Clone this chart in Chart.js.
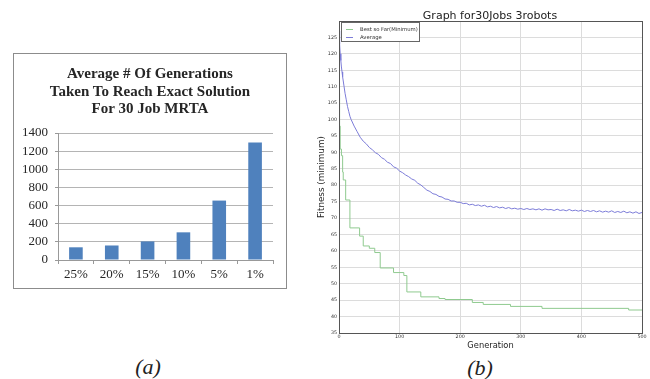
<!DOCTYPE html>
<html>
<head>
<meta charset="utf-8">
<script src="https://cdn.jsdelivr.net/npm/chart.js@4/dist/chart.umd.min.js"></script>
<style>
  html, body { margin: 0; padding: 0; background: #fff; }
  body { width: 650px; height: 379px; position: relative; overflow: hidden; }
  #boxA { position: absolute; left: 13px; top: 53px; width: 274px; height: 236px; border: 1px solid #8c8c8c; box-sizing: border-box; }
  #wrapA { position: absolute; left: 14px; top: 54px; width: 272px; height: 234px; }
  #titleA { position: absolute; left: 150px; top: 65px; transform: translateX(-50%); text-align: center; font-family: 'Liberation Serif', 'DejaVu Serif', serif; font-weight: bold; font-size: 15px; line-height: 17.5px; color: #262626; white-space: nowrap; }
  #wrapB { position: absolute; left: 310px; top: 0px; width: 340px; height: 352px; }
  .cap { position: absolute; font-family: 'Liberation Serif', 'DejaVu Serif', serif; font-style: italic; font-size: 22px; color: #222; transform: translate(-50%, -50%); white-space: nowrap; }
  #titleB { position: absolute; left: 490px; top: 15px; transform: translate(-50%, -50%); font-family: 'DejaVu Sans', sans-serif; font-size: 11px; color: #222; white-space: nowrap; }
  #legB { position: absolute; left: 341px; top: 22px; width: 79px; height: 20px; border: 1px solid #666; box-sizing: border-box; background: #fff; font-family: 'DejaVu Sans', sans-serif; font-size: 5.3px; color: #333; }
  .li { position: absolute; left: 4px; height: 6px; width: 80px; white-space: nowrap; }
  .li span.ln { position: absolute; left: 0; top: 3px; width: 7px; height: 0; border-top: 1px solid; }
  .li span.tx { position: absolute; left: 14px; top: 0; line-height: 6px; }
</style>
</head>
<body>
<div id="boxA"></div>
<div id="wrapA"><canvas id="cA"></canvas></div>
<div id="titleA"></div>
<div id="wrapB"><canvas id="cB"></canvas></div>
<div id="titleB">Graph for30Jobs 3robots</div>
<div id="legB">
  <div class="li" style="top:3px"><span class="ln" style="border-color:#8fca8f"></span><span class="tx">Best so Far(Minimum)</span></div>
  <div class="li" style="top:11px"><span class="ln" style="border-color:#7c7cd8"></span><span class="tx">Average</span></div>
</div>
<div class="cap" style="left:148px; top:367px;">(a)</div>
<div class="cap" style="left:480px; top:368px;">(b)</div>
<script>
// ---- Chart (a) data ----
const barCategories = ['25%', '20%', '15%', '10%', '5%', '1%'];
const barValues = [140, 160, 205, 305, 655, 1295];
const barTitle = ['Average # Of Generations', 'Taken To Reach Exact Solution', 'For 30 Job MRTA'];
const yTicksA = [0, 200, 400, 600, 800, 1000, 1200, 1400];

// ---- Chart (b) data ----
const bestGen = [0, 1, 2, 4, 6, 7, 11, 18, 34, 40, 50, 59, 68, 90, 107, 112, 135, 165, 175, 220, 238, 283, 335, 478, 500];
const bestVal = [108, 98, 91, 89, 84, 81.6, 75.5, 67, 64.5, 61.5, 60.8, 59.5, 54.8, 53.4, 52.5, 47.5, 46, 45.5, 45.2, 44.3, 43.7, 43.1, 42.5, 42, 42];

const avgGenEarly = [0, 1, 2, 3, 4, 5, 6, 8, 10, 12, 14, 16, 18, 20];
const avgValEarly = [127, 123, 120, 118, 116, 114.5, 113, 110.5, 108, 106, 104, 102.5, 101, 100];
// gens 25..500 step 5
const avgValLate = [
  98.0, 96.3, 94.6, 93.4, 92.6, 91.5, 90.8, 89.9, 89.4, 88.4,
  87.9, 87.0, 86.6, 85.6, 85.2, 84.3, 83.8, 83.1, 82.6, 81.9,
  81.5, 80.6, 80.1, 79.3, 78.5, 78.1, 77.4, 77.2, 76.6, 76.4,
  75.8, 75.7, 75.2, 75.2, 74.8, 74.8, 74.4, 74.5, 74.0, 74.2,
  73.8, 74.0, 73.6, 73.9, 73.4, 73.6, 73.2, 73.5, 73.1, 73.3,
  72.9, 73.2, 72.8, 73.0, 72.7, 72.9, 72.6, 72.9, 72.6, 72.8,
  72.5, 72.8, 72.4, 72.8, 72.5, 72.6, 72.3, 72.7, 72.3, 72.5,
  72.2, 72.6, 72.2, 72.4, 72.1, 72.4, 72.0, 72.3, 72.0, 72.3,
  71.9, 72.2, 71.8, 72.1, 71.8, 72.2, 71.7, 72.0, 71.7, 72.1,
  71.6, 71.9, 71.5, 71.9, 71.4, 71.7
];
const avgGenLate = avgValLate.map((v, i) => 25 + 5 * i);
const avgGen = avgGenEarly.concat(avgGenLate);
const avgVal = avgValEarly.concat(avgValLate);

const yTicksB = [35, 40, 45, 50, 55, 60, 65, 70, 75, 80, 85, 90, 95, 100, 105, 110, 115, 120, 125];
const xTicksB = [0, 100, 200, 300, 400, 500];

const serif = "'Liberation Serif', 'DejaVu Serif', serif";
const sans = "'DejaVu Sans', sans-serif";

const tA = document.getElementById('titleA');
barTitle.forEach(line => { const d = document.createElement('div'); d.textContent = line; tA.appendChild(d); });

new Chart(document.getElementById('cA'), {
  type: 'bar',
  data: {
    labels: barCategories,
    datasets: [{ data: barValues, backgroundColor: '#4f81bd', borderWidth: 0, categoryPercentage: 1, barPercentage: 0.38 }]
  },
  options: {
    responsive: true, maintainAspectRatio: false, animation: false,
    layout: { padding: { left: 0, right: 13, top: 79, bottom: 0 } },
    plugins: { legend: { display: false }, tooltip: { enabled: false }, title: { display: false } },
    scales: {
      y: {
        min: 0, max: 1400,
        afterBuildTicks: s => { s.ticks = yTicksA.map(v => ({ value: v })); },
        ticks: { autoSkip: false, color: '#262626', font: { family: serif, size: 13 }, padding: 7, callback: v => String(v) },
        grid: { color: '#b4b4b4', tickLength: 3, tickColor: '#999' },
        border: { color: '#999' },
        afterFit: s => { s.width = 44; }
      },
      x: {
        ticks: { color: '#262626', font: { family: serif, size: 13 }, padding: 3 },
        grid: { offset: true, drawOnChartArea: false, tickLength: 4, color: '#999' },
        border: { color: '#999' },
        afterFit: s => { s.height = 28; }
      }
    }
  }
});

const frame = {
  id: 'frame',
  afterDatasetsDraw(chart) {
    const a = chart.chartArea, ctx = chart.ctx;
    ctx.save();
    ctx.strokeStyle = '#555';
    ctx.lineWidth = 1;
    ctx.strokeRect(Math.round(a.left) + 0.5, Math.round(a.top) + 0.5, Math.round(a.right - a.left), Math.round(a.bottom - a.top));
    ctx.restore();
  }
};

new Chart(document.getElementById('cB'), {
  type: 'line',
  data: {
    datasets: [
      { label: 'Best so Far(Minimum)', data: bestGen.map((g, i) => ({ x: g, y: bestVal[i] })), borderColor: '#8fca8f', borderWidth: 1, pointRadius: 0, stepped: true, fill: false },
      { label: 'Average', data: avgGen.map((g, i) => ({ x: g, y: avgVal[i] })), borderColor: '#7c7cd8', borderWidth: 1, pointRadius: 0, tension: 0, fill: false }
    ]
  },
  options: {
    responsive: true, maintainAspectRatio: false, animation: false,
    layout: { padding: { left: 0, right: 8, top: 21, bottom: 0 } },
    plugins: { legend: { display: false }, tooltip: { enabled: false }, title: { display: false } },
    scales: {
      x: {
        type: 'linear', min: 0, max: 500,
        afterBuildTicks: s => { s.ticks = xTicksB.map(v => ({ value: v })); },
        ticks: { color: '#333', font: { family: sans, size: 4.8 }, padding: 1, maxRotation: 0 },
        grid: { color: '#dcdcdc', drawTicks: false },
        border: { display: false },
        title: { display: true, text: 'Generation', color: '#222', font: { family: sans, size: 8.3 }, padding: { top: 0, bottom: 1.5 } },
        afterFit: s => { s.height = 19; }
      },
      y: {
        min: 35, max: 130,
        afterBuildTicks: s => { s.ticks = yTicksB.map(v => ({ value: v })); },
        ticks: { autoSkip: false, color: '#333', font: { family: sans, size: 4.8 }, padding: 2 },
        grid: { color: '#dcdcdc', drawTicks: false },
        border: { display: false },
        title: { display: true, text: 'Fitness (minimum)', color: '#222', font: { family: sans, size: 8.8 }, padding: { top: 6.5, bottom: 0 } },
        afterFit: s => { s.width = 29; }
      }
    }
  },
  plugins: [frame]
});
</script>
</body>
</html>
